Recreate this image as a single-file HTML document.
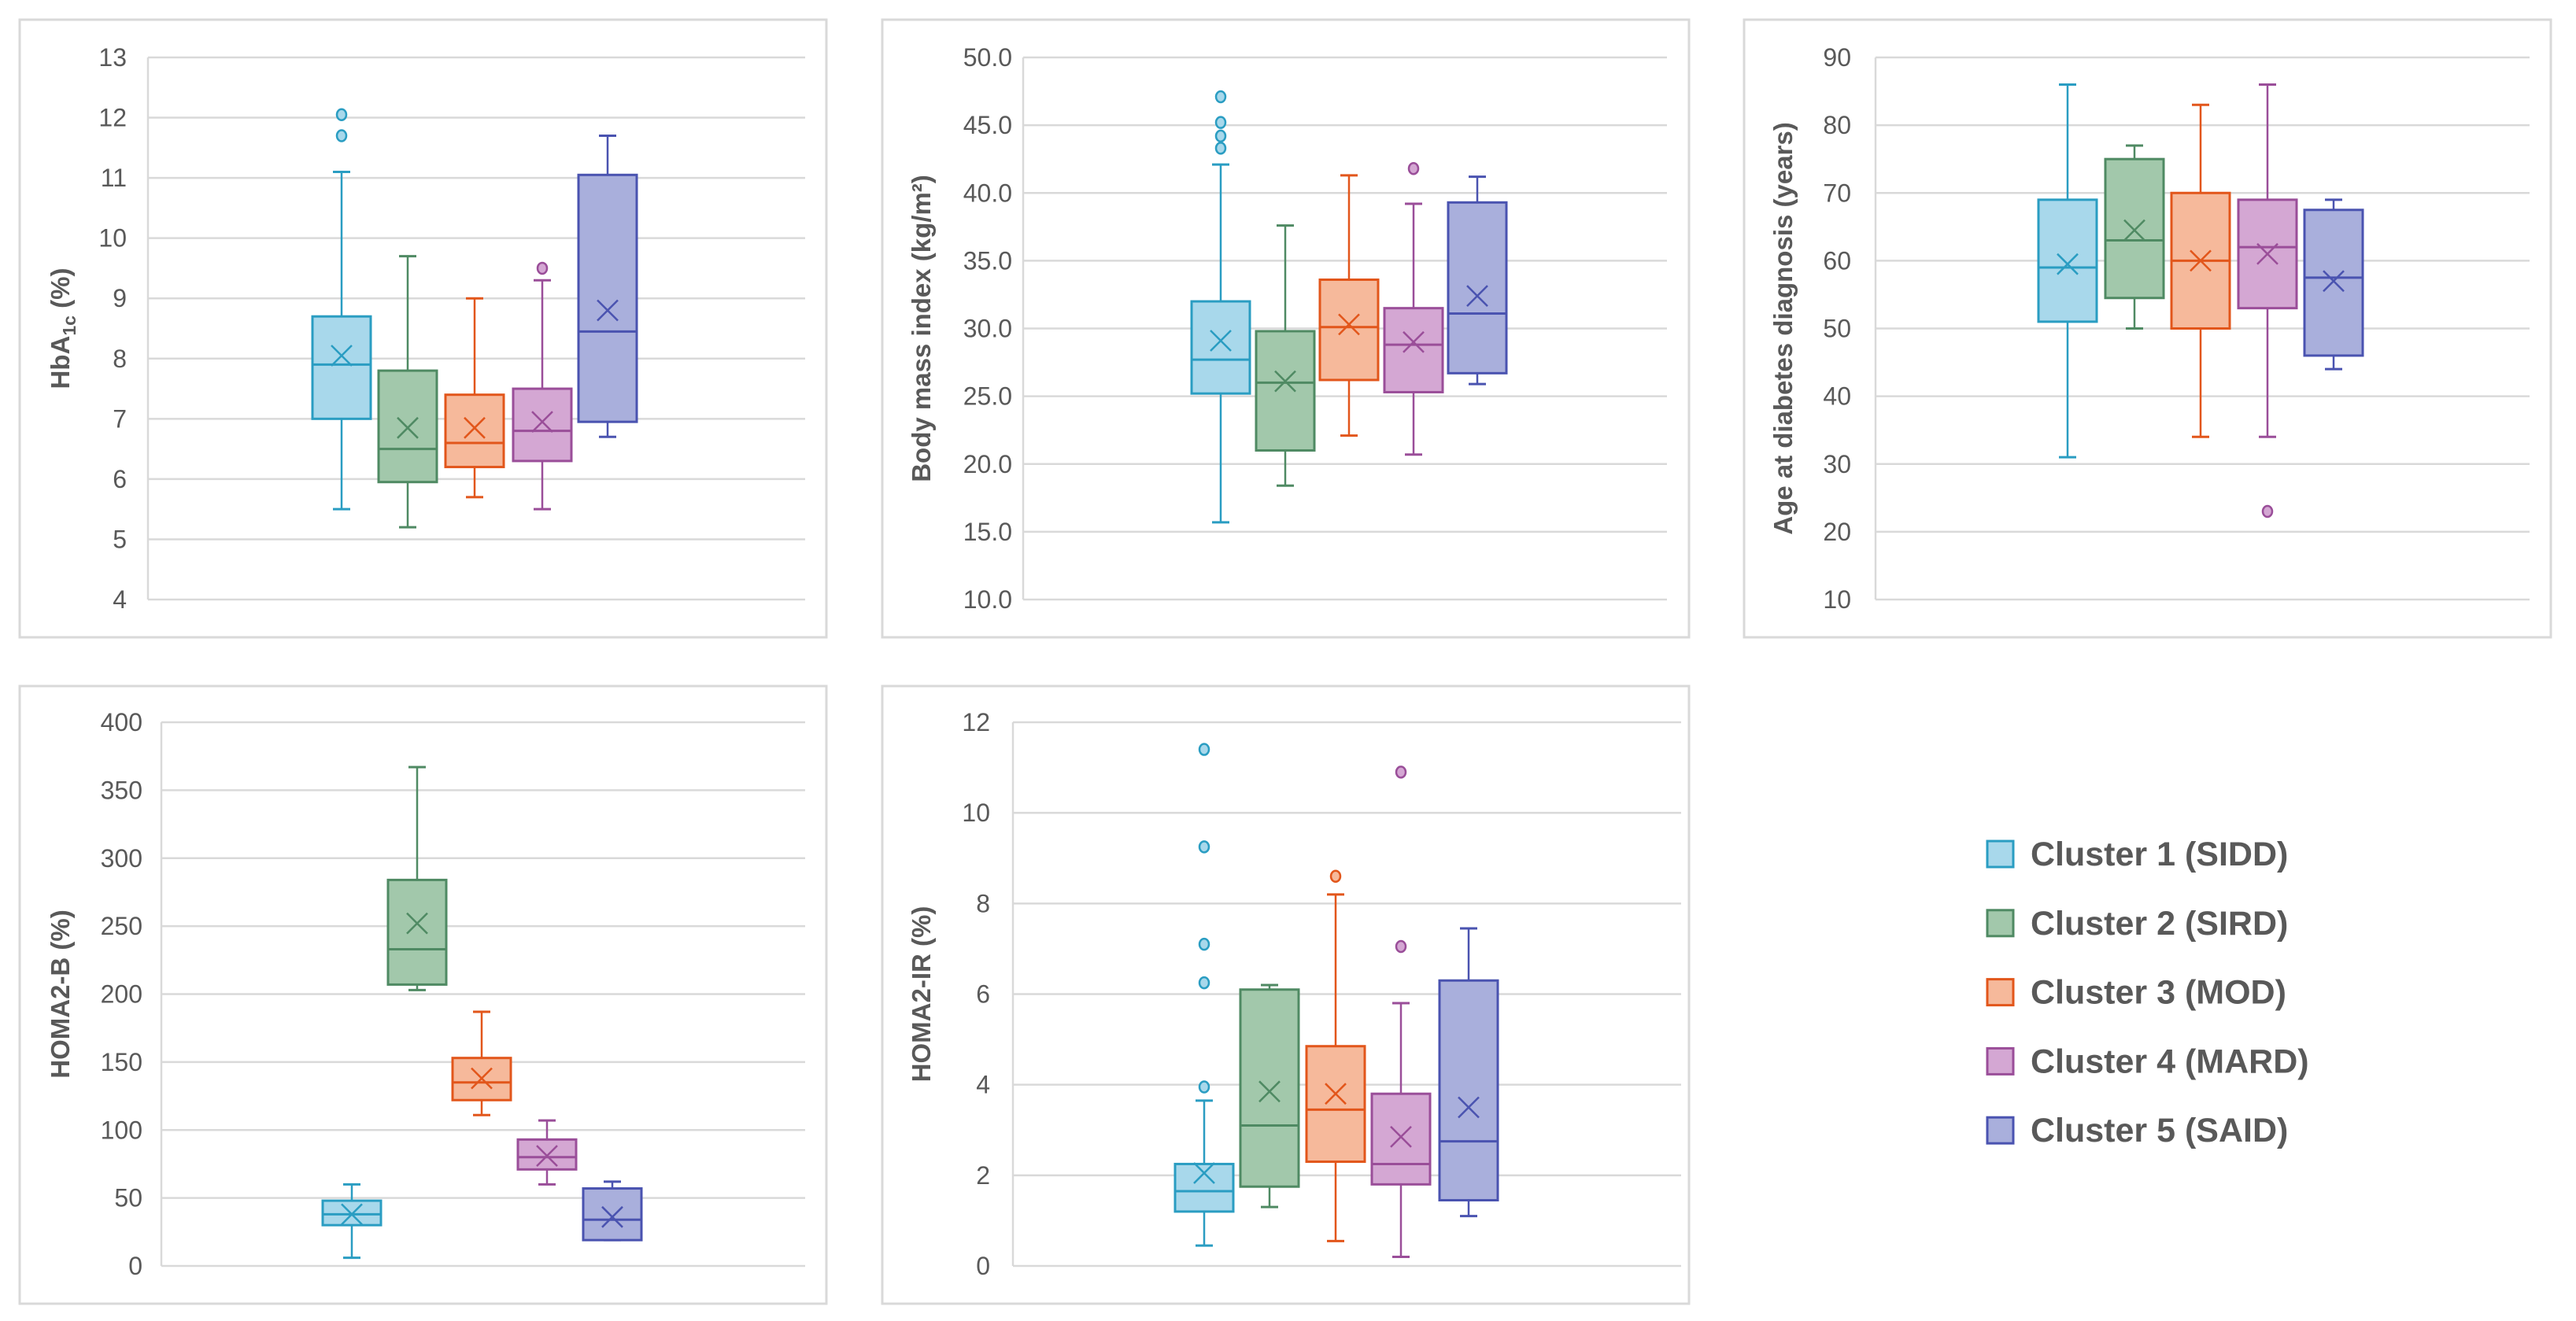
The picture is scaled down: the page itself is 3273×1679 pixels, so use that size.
<!DOCTYPE html>
<html><head><meta charset="utf-8">
<style>
html,body{margin:0;padding:0;background:#fff;}
svg{display:block;font-family:"Liberation Sans",Arial,sans-serif;}
</style></head>
<body>
<svg id="chart" width="3273" height="1679" viewBox="0 0 3273 1679" xmlns="http://www.w3.org/2000/svg">
<rect x="0" y="0" width="3273" height="1679" fill="#fff"/>
<g id="panels"></g>
<g id="legend"></g>
</svg>
<script>
// ---- data ----
const clusterNames = ["Cluster 1 (SIDD)","Cluster 2 (SIRD)","Cluster 3 (MOD)","Cluster 4 (MARD)","Cluster 5 (SAID)"];

// HbA1c (%)
const hba1cMin = [5.5,5.2,5.7,5.5,6.7];
const hba1cQ1 = [7.0,5.95,6.2,6.3,6.95];
const hba1cMed = [7.9,6.5,6.6,6.8,8.45];
const hba1cQ3 = [8.7,7.8,7.4,7.5,11.05];
const hba1cMax = [11.1,9.7,9.0,9.3,11.7];
const hba1cMean = [8.05,6.85,6.85,6.95,8.8];
const hba1cOut = [[11.7,12.05],[],[],[9.5],[]];
const hba1cTicks = ["4","5","6","7","8","9","10","11","12","13"];

// BMI
const bmiMin = [15.7,18.4,22.1,20.7,25.9];
const bmiQ1 = [25.2,21.0,26.2,25.3,26.7];
const bmiMed = [27.7,26.0,30.1,28.8,31.1];
const bmiQ3 = [32.0,29.8,33.6,31.5,39.3];
const bmiMax = [42.1,37.6,41.3,39.2,41.2];
const bmiMean = [29.1,26.1,30.3,29.0,32.4];
const bmiOut = [[43.3,44.2,45.2,47.1],[],[],[41.8],[]];
const bmiTicks = ["10.0","15.0","20.0","25.0","30.0","35.0","40.0","45.0","50.0"];

// Age at diagnosis
const ageMin = [31,50,34,34,44];
const ageQ1 = [51,54.5,50,53,46];
const ageMed = [59,63,60,62,57.5];
const ageQ3 = [69,75,70,69,67.5];
const ageMax = [86,77,83,86,69];
const ageMean = [59.5,64.5,60,61,57];
const ageOut = [[],[],[],[23],[]];
const ageTicks = ["10","20","30","40","50","60","70","80","90"];

// HOMA2-B
const hbMin = [6,203,111,60,19];
const hbQ1 = [30,207,122,71,19];
const hbMed = [38,233,135,80,34];
const hbQ3 = [48,284,153,93,57];
const hbMax = [60,367,187,107,62];
const hbMean = [38,252,138,81,36];
const hbOut = [[],[],[],[],[]];
const hbTicks = ["0","50","100","150","200","250","300","350","400"];

// HOMA2-IR
const irMin = [0.45,1.3,0.55,0.2,1.1];
const irQ1 = [1.2,1.75,2.3,1.8,1.45];
const irMed = [1.65,3.1,3.45,2.25,2.75];
const irQ3 = [2.25,6.1,4.85,3.8,6.3];
const irMax = [3.65,6.2,8.2,5.8,7.45];
const irMean = [2.05,3.85,3.8,2.85,3.5];
const irOut = [[3.95,6.25,7.1,9.25,11.4],[],[8.6],[7.05,10.9],[]];
const irTicks = ["0","2","4","6","8","10","12"];

const strokeCols = ["#2a9dc2","#4f8a63","#e2561b","#9a4e99","#4a53b0"];
const fillCols = ["#a8d8eb","#a2c8ab","#f6b99b","#d4a7d3","#a9afdc"];

const NS = "http://www.w3.org/2000/svg";
function mk(tag, attrs, parent){const e=document.createElementNS(NS,tag);for(const k in attrs)e.setAttribute(k,attrs[k]);parent.appendChild(e);return e;}

const panels = [
 {name:"hba1c",title:"HbA",sub:"1c",tail:" (%)",bx:25,by:25,left:188,right:1023,top:73,bottom:762,lblX:161,titleX:77,centers:[434,518,603,689,772],ticks:hba1cTicks,min:hba1cMin,q1:hba1cQ1,med:hba1cMed,q3:hba1cQ3,max:hba1cMax,mean:hba1cMean,out:hba1cOut},
 {name:"bmi",title:"Body mass index (kg/m²)",bx:1121,by:25,left:1300,right:2118,top:73,bottom:762,lblX:1286,titleX:1171,centers:[1551,1633,1714,1796,1877],ticks:bmiTicks,min:bmiMin,q1:bmiQ1,med:bmiMed,q3:bmiQ3,max:bmiMax,mean:bmiMean,out:bmiOut},
 {name:"age",title:"Age at diabetes diagnosis (years)",bx:2216,by:25,left:2383,right:3214,top:73,bottom:762,lblX:2352,titleX:2266,centers:[2627,2712,2796,2881,2965],ticks:ageTicks,min:ageMin,q1:ageQ1,med:ageMed,q3:ageQ3,max:ageMax,mean:ageMean,out:ageOut},
 {name:"homa2-b",title:"HOMA2-B (%)",bx:25,by:872,left:205,right:1023,top:918,bottom:1609,lblX:181,titleX:77,centers:[447,530,612,695,778],ticks:hbTicks,min:hbMin,q1:hbQ1,med:hbMed,q3:hbQ3,max:hbMax,mean:hbMean,out:hbOut},
 {name:"homa2-ir",title:"HOMA2-IR (%)",bx:1121,by:872,left:1287,right:2136,top:918,bottom:1609,lblX:1258,titleX:1171,centers:[1530,1613,1697,1780,1866],ticks:irTicks,min:irMin,q1:irQ1,med:irMed,q3:irQ3,max:irMax,mean:irMean,out:irOut}
];

const root = document.getElementById("panels");
panels.forEach(p=>{
  const g = mk("g",{},root);
  
  
  const fr = mk("rect",{x:p.bx,y:p.by,width:1025,height:785,fill:"#fff",stroke:"#d9d9d9","stroke-width":3},g);
  
  
  const t0 = parseFloat(p.ticks[0]), t1 = parseFloat(p.ticks[p.ticks.length-1]);
  const y = v => p.bottom - (v - t0)/(t1 - t0)*(p.bottom - p.top);
  p.ticks.forEach(t=>{
    const v=parseFloat(t);
    const gl = mk("line",{x1:p.left,x2:p.right,y1:y(v),y2:y(v),stroke:"#d9d9d9","stroke-width":2.5},g);
    
    
    const tl = mk("text",{x:p.lblX,y:y(v)+11,"text-anchor":"end","font-size":32,fill:"#595959"},g);
    tl.textContent=t;
    
    
  });
  const ax = mk("line",{x1:p.left,x2:p.left,y1:p.top,y2:p.bottom,stroke:"#d9d9d9","stroke-width":2.5},g);
  
  
  const cy=(p.top+p.bottom)/2;
  const tt = mk("text",{x:p.titleX,y:cy,transform:`rotate(-90 ${p.titleX} ${cy})`,"text-anchor":"middle","font-size":33,"font-weight":"bold",fill:"#595959",dy:11},g);
  if(p.sub){
    const a=mk("tspan",{},tt);a.textContent=p.title;
    const b=mk("tspan",{"font-size":23,dy:8},tt);b.textContent=p.sub;
    const c=mk("tspan",{dy:-8},tt);c.textContent=p.tail;
  } else tt.textContent=p.title;
  
  
  const hw=37, cap=11;
  p.centers.forEach((cx,i)=>{
    const bg = mk("g",{},g);
    
    
    const sc=strokeCols[i], fc=fillCols[i];
    mk("line",{x1:cx,x2:cx,y1:y(p.max[i]),y2:y(p.q3[i]),stroke:sc,"stroke-width":2.5},bg);
    mk("line",{x1:cx,x2:cx,y1:y(p.q1[i]),y2:y(p.min[i]),stroke:sc,"stroke-width":2.5},bg);
    mk("line",{x1:cx-cap,x2:cx+cap,y1:y(p.max[i]),y2:y(p.max[i]),stroke:sc,"stroke-width":3},bg);
    mk("line",{x1:cx-cap,x2:cx+cap,y1:y(p.min[i]),y2:y(p.min[i]),stroke:sc,"stroke-width":3},bg);
    mk("rect",{x:cx-hw,y:y(p.q3[i]),width:2*hw,height:Math.max(1,y(p.q1[i])-y(p.q3[i])),fill:fc,stroke:sc,"stroke-width":3},bg);
    mk("line",{x1:cx-hw,x2:cx+hw,y1:y(p.med[i]),y2:y(p.med[i]),stroke:sc,"stroke-width":3},bg);
    const my=y(p.mean[i]), s=13;
    mk("path",{d:`M${cx-s} ${my-s}L${cx+s} ${my+s}M${cx+s} ${my-s}L${cx-s} ${my+s}`,stroke:sc,"stroke-width":2.5,fill:"none"},bg);
    p.out[i].forEach(o=>{
      const c=mk("ellipse",{cx:cx,cy:y(o),rx:6,ry:7,fill:fc,stroke:sc,"stroke-width":2.5},bg);
      
      
    });
  });
});

const lg=document.getElementById("legend");
clusterNames.forEach((n,i)=>{
  const yy=1085+i*87.8;
  const e=mk("g",{},lg);
  
  
  mk("rect",{x:2525,y:yy-16,width:33,height:33,fill:fillCols[i],stroke:strokeCols[i],"stroke-width":3},e);
  const t=mk("text",{x:2580,y:yy+15,"font-size":43,"font-weight":"bold",fill:"#595959"},e);
  t.textContent=n;
});
</script>
</body></html>
